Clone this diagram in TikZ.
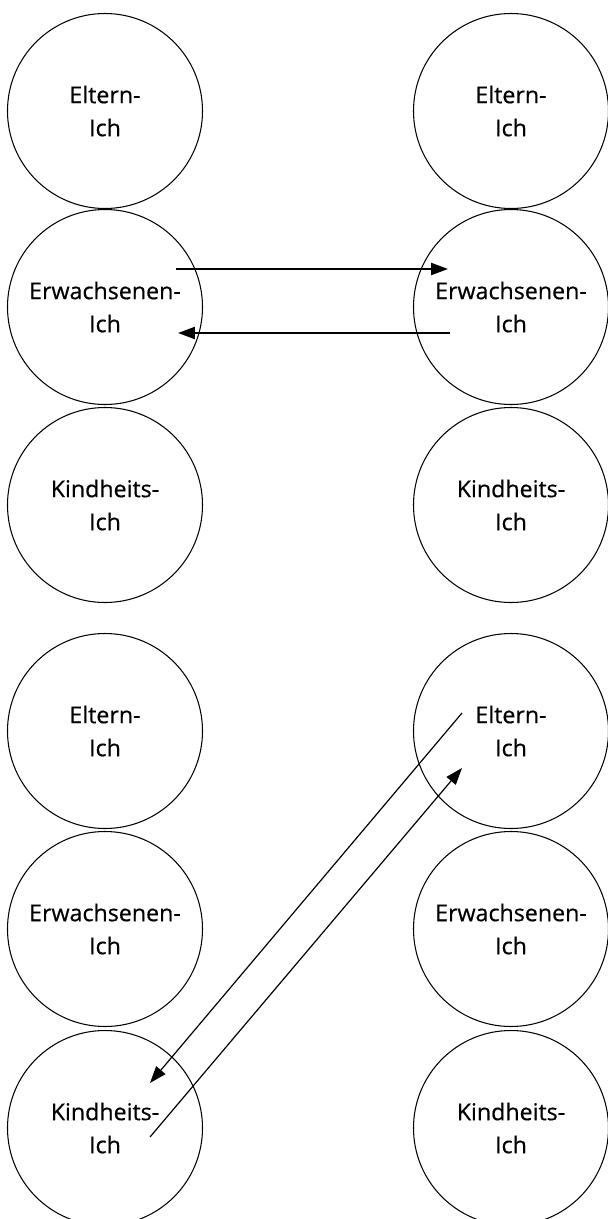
\documentclass[tikz,border=0pt]{standalone}
\usepackage{fontspec}
\setmainfont{Open Sans}
\newfontfamily\ichfont{Open Sans}[FakeBold=0.5]
\usetikzlibrary{arrows.meta}

\begin{document}
\begin{tikzpicture}[
        ich/.style={draw, circle, line width=0.75pt, minimum size=4.875cm, inner sep=0pt,
            align=center, font=\ichfont\fontsize{16.5}{23.5}\selectfont},
        pfeil/.style={line width=1.5pt, -{Triangle[length=12pt,width=8.5pt]}},
        schraeg/.style={line width=0.85pt, -{Triangle[length=12pt,width=8.5pt]}},
    ]
    \useasboundingbox (0,0) rectangle (15.175,-30.475);

    \node[ich] (e1) at (2.625,-2.775) {Eltern-\\Ich};
    \node[ich] (a1) at (2.625,-7.675) {Erwachsenen-\\Ich};
    \node[ich] (k1) at (2.625,-12.625) {Kindheits-\\Ich};
    \node[ich] (e2) at (12.775,-2.775) {Eltern-\\Ich};
    \node[ich] (a2) at (12.775,-7.675) {Erwachsenen-\\Ich};
    \node[ich] (k2) at (12.775,-12.625) {Kindheits-\\Ich};

    \node[ich] (e3) at (2.625,-18.275) {Eltern-\\Ich};
    \node[ich] (a3) at (2.625,-23.225) {Erwachsenen-\\Ich};
    \node[ich] (k3) at (2.625,-28.2) {Kindheits-\\Ich};
    \node[ich] (e4) at (12.775,-18.275) {Eltern-\\Ich};
    \node[ich] (a4) at (12.775,-23.225) {Erwachsenen-\\Ich};
    \node[ich] (k4) at (12.775,-28.2) {Kindheits-\\Ich};

    \coordinate (a1o) at ([shift={(1.775,0.95)}]a1.center);
    \coordinate (a2o) at ([shift={(-1.575,0.95)}]a2.center);
    \coordinate (a2u) at ([shift={(-1.525,-0.65)}]a2.center);
    \coordinate (a1u) at ([shift={(1.825,-0.65)}]a1.center);
    \coordinate (e4o) at ([shift={(-1.225,0.45)}]e4.center);
    \coordinate (e4u) at ([shift={(-1.225,-0.925)}]e4.center);
    \coordinate (k3o) at ([shift={(1.125,1.125)}]k3.center);
    \coordinate (k3u) at ([shift={(1.125,-0.225)}]k3.center);

    \draw[pfeil] (a1o) -- (a2o);
    \draw[pfeil] (a2u) -- (a1u);
    \draw[schraeg] (e4o) -- (k3o);
    \draw[schraeg] (k3u) -- (e4u);
\end{tikzpicture}
\end{document}
